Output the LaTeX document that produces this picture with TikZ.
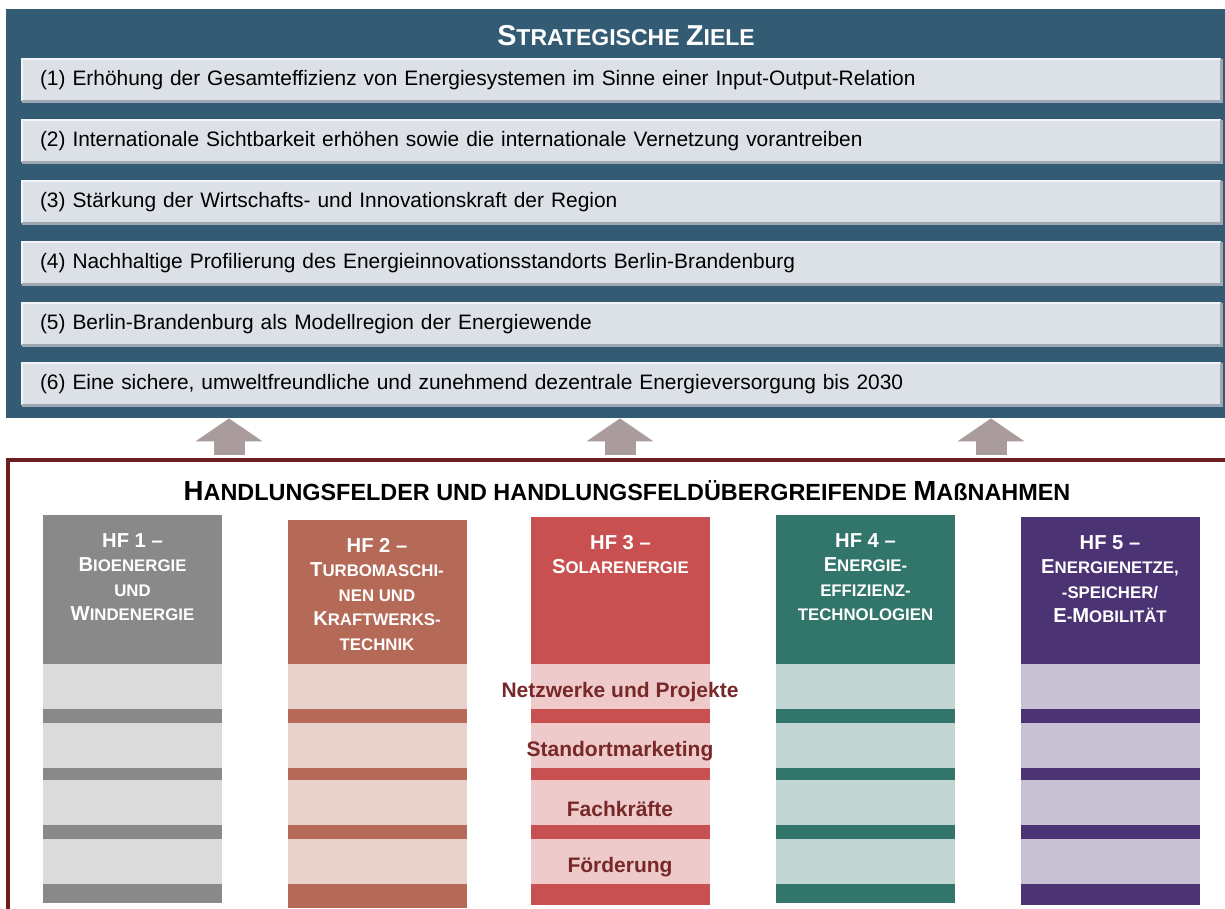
\documentclass[tikz,border=0pt]{standalone}
\usepackage{fontspec}
\setmainfont{Liberation Sans}
\usetikzlibrary{arrows.meta,calc}

\definecolor{panelblue}{HTML}{335B74}
\definecolor{goalfill}{HTML}{DCE0E7}
\definecolor{goallight}{HTML}{F2F4F7}
\definecolor{goaldark}{HTML}{9EA7B2}
\definecolor{arrowgray}{HTML}{AA9C9C}
\definecolor{frame}{HTML}{6A1E1E}
\definecolor{labelred}{HTML}{782828}
\definecolor{hfone}{HTML}{898989}
\definecolor{hftwo}{HTML}{B56A57}
\definecolor{hfthree}{HTML}{C95050}
\definecolor{hffour}{HTML}{32756A}
\definecolor{hffive}{HTML}{4C3373}

% enlarged initials for the small-caps headings
\newcommand\capT[1]{{\fontsize{14.4pt}{16pt}\selectfont #1}}
\newcommand\capH[1]{{\fontsize{13.8pt}{16pt}\selectfont #1}}
\newcommand\capF[1]{{\fontsize{10.1pt}{12.2pt}\selectfont #1}}

\begin{document}
\begin{tikzpicture}[x=0.5pt,y=-0.5pt,
  goal/.style={fill=goalfill, minimum height=21pt, text width=581.5pt,
    inner xsep=9pt, inner ysep=0pt, align=left,
    font=\fontsize{10.45pt}{12pt}\selectfont},
  hfcol/.style={minimum width=89.5pt, minimum height=194pt, inner sep=0pt, anchor=north},
  hftext/.style={text=white, align=center, anchor=north, inner sep=0pt,
    font=\bfseries\fontsize{8.4pt}{12.2pt}\selectfont},
  band/.style={fill=white, fill opacity=0.7, minimum width=585pt,
    minimum height=22.5pt, inner sep=0pt},
  bandlabel/.style={text=labelred, inner sep=0pt,
    font=\bfseries\fontsize{10.5pt}{12pt}\selectfont},
  uparrow/.style={draw=arrowgray, line width=15.5pt,
    -{Triangle[width=33pt,length=11.5pt]}}
]
\useasboundingbox (0,0) rectangle (1225,909);
\clip (0,0) rectangle (1225,909);

% --- strategic goals panel ---
\node[fill=panelblue, minimum width=617pt, minimum height=204.5pt, inner sep=0pt]
  (ziele) at (623,213.5) {};
\node[text=white, font=\bfseries\fontsize{11.5pt}{13pt}\selectfont]
  (zieletitel) at (626,36) {\capT{S}TRATEGISCHE \capT{Z}IELE};

\foreach \i/\yy/\txt in {
  1/80/{(1) Erhöhung der Gesamteffizienz von Energiesystemen im Sinne einer Input-Output-Relation},
  2/141/{(2) Internationale Sichtbarkeit erhöhen sowie die internationale Vernetzung vorantreiben},
  3/202/{(3) Stärkung der Wirtschafts- und Innovationskraft der Region},
  4/263/{(4) Nachhaltige Profilierung des Energieinnovationsstandorts Berlin-Brandenburg},
  5/324/{(5) Berlin-Brandenburg als Modellregion der Energiewende},
  6/384/{(6) Eine sichere, umweltfreundliche und zunehmend dezentrale Energieversorgung bis 2030}}{
  \node[goal] (g\i) at (621.5,\yy) {\txt};
  \draw[goallight, line width=1pt] (g\i.south west) -- (g\i.north west) -- (g\i.north east);
  \draw[goaldark, line width=1.2pt] (g\i.north east) -- (g\i.south east) -- (g\i.south west);
}

% --- fields of action panel ---
\node[draw=frame, line width=1.75pt, minimum width=616pt, minimum height=235pt, inner sep=0pt]
  (massn) at (624,695) {};

\coordinate (ax1) at (229,0);
\coordinate (ax2) at (620,0);
\coordinate (ax3) at (991,0);
\foreach \a in {ax1,ax2,ax3}
  \draw[uparrow] ([yshift=1.6pt]massn.north -| \a) -- (\a |- ziele.south);

\node[font=\bfseries\fontsize{11.7pt}{13pt}\selectfont] (hftitel) at (627,491)
  {\capH{H}ANDLUNGSFELDER UND HANDLUNGSFELDÜBERGREIFENDE \capH{M}AßNAHMEN};

\node[hfcol, fill=hfone]   (hf1) at (132.5,515) {};
\node[hfcol, fill=hftwo]   (hf2) at (377,520) {};
\node[hfcol, fill=hfthree] (hf3) at (620.5,517) {};
\node[hfcol, fill=hffour]  (hf4) at (865.5,515) {};
\node[hfcol, fill=hffive]  (hf5) at (1110,517) {};

\node[hftext] (t1) at ([yshift=-9pt]hf1.north)
  {\capF{HF 1 –}\\\capF{B}IOENERGIE\\UND\\\capF{W}INDENERGIE};
\node[hftext] (t2) at ([yshift=-9pt]hf2.north)
  {\capF{HF 2 –}\\\capF{T}URBOMASCHI-\\NEN UND\\\capF{K}RAFTWERKS-\\TECHNIK};
\node[hftext] (t3) at ([yshift=-9pt]hf3.north)
  {\capF{HF 3 –}\\\capF{S}OLARENERGIE};
\node[hftext] (t4) at ([yshift=-9pt]hf4.north)
  {\capF{HF 4 –}\\\capF{E}NERGIE-\\EFFIZIENZ-\\TECHNOLOGIEN};
\node[hftext] (t5) at ([yshift=-9pt]hf5.north)
  {\capF{HF 5 –}\\\capF{E}NERGIENETZE,\\-SPEICHER/\\\capF{E}-\capF{M}OBILITÄT};

% cross-cutting measures as translucent bands
\node[band] (b1) at (620,686.5) {};
\node[band] (b2) at (620,745.5) {};
\node[band] (b3) at (620,802.5) {};
\node[band] (b4) at (620,861.5) {};
\node[bandlabel] (l1) at ([yshift=-3pt]b1.center) {Netzwerke und Projekte};
\node[bandlabel] (l2) at ([yshift=-3pt]b2.center) {Standortmarketing};
\node[bandlabel] (l3) at ([yshift=-3pt]b3.center) {Fachkräfte};
\node[bandlabel] (l4) at ([yshift=-3pt]b4.center) {Förderung};
\end{tikzpicture}
\end{document}
